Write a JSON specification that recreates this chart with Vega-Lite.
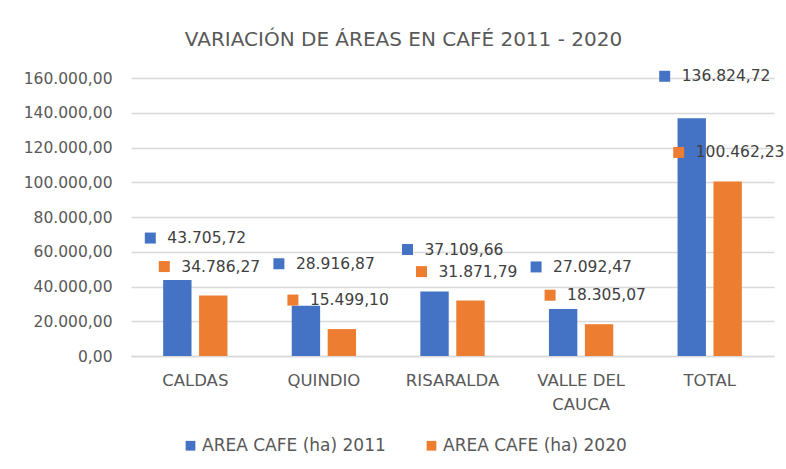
{
  "$schema": "https://vega.github.io/schema/vega-lite/v6.json",
  "width": 643,
  "height": 278,
  "autosize": {"type": "none"},
  "padding": {"left": 131, "top": 78, "right": 12, "bottom": 113},
  "background": "white",
  "title": {
    "text": "VARIACIÓN DE ÁREAS EN CAFÉ 2011 - 2020",
    "font": "DejaVu Sans",
    "fontSize": 20,
    "fontWeight": "normal",
    "color": "#595959",
    "anchor": "middle",
    "frame": "group",
    "dx": -49,
    "offset": 19
  },
  "config": {
    "locale": {
      "number": {"decimal": ",", "thousands": ".", "grouping": [3], "currency": ["$", ""]}
    },
    "view": {"stroke": null},
    "font": "DejaVu Sans"
  },
  "data": {
    "values": [
      {"region": "CALDAS", "serie": "AREA CAFE (ha) 2011", "area": 43705.72},
      {"region": "CALDAS", "serie": "AREA CAFE (ha) 2020", "area": 34786.27},
      {"region": "QUINDIO", "serie": "AREA CAFE (ha) 2011", "area": 28916.87},
      {"region": "QUINDIO", "serie": "AREA CAFE (ha) 2020", "area": 15499.10},
      {"region": "RISARALDA", "serie": "AREA CAFE (ha) 2011", "area": 37109.66},
      {"region": "RISARALDA", "serie": "AREA CAFE (ha) 2020", "area": 31871.79},
      {"region": "VALLE DEL CAUCA", "serie": "AREA CAFE (ha) 2011", "area": 27092.47},
      {"region": "VALLE DEL CAUCA", "serie": "AREA CAFE (ha) 2020", "area": 18305.07},
      {"region": "TOTAL", "serie": "AREA CAFE (ha) 2011", "area": 136824.72},
      {"region": "TOTAL", "serie": "AREA CAFE (ha) 2020", "area": 100462.23}
    ]
  },
  "encoding": {
    "x": {
      "field": "region",
      "type": "nominal",
      "sort": null,
      "scale": {"paddingInner": 0.5, "paddingOuter": 0.25},
      "axis": {
        "title": null,
        "labelAngle": 0,
        "labelFont": "DejaVu Sans",
        "labelFontSize": 16.5,
        "labelColor": "#595959",
        "labelPadding": 16,
        "labelLineHeight": 24,
        "labelExpr": "datum.label == 'VALLE DEL CAUCA' ? ['VALLE DEL', 'CAUCA'] : datum.label",
        "ticks": false,
        "tickSize": 0,
        "domain": true,
        "domainColor": "#d9d9d9",
        "domainWidth": 1.5,
        "grid": false
      }
    },
    "y": {
      "field": "area",
      "type": "quantitative",
      "scale": {"domain": [0, 160000], "nice": false, "zero": true},
      "axis": {
        "title": null,
        "values": [0, 20000, 40000, 60000, 80000, 100000, 120000, 140000, 160000],
        "format": ",.2f",
        "labelFont": "DejaVu Sans",
        "labelFontSize": 15.5,
        "labelColor": "#595959",
        "labelPadding": 19,
        "ticks": false,
        "tickSize": 0,
        "domain": false,
        "grid": true,
        "gridColor": "#d9d9d9",
        "gridWidth": 1.5
      }
    }
  },
  "layer": [
    {
      "mark": {"type": "bar"},
      "encoding": {
        "xOffset": {
          "field": "serie",
          "type": "nominal",
          "scale": {"paddingInner": 0.21, "paddingOuter": 0}
        },
        "color": {
          "field": "serie",
          "type": "nominal",
          "scale": {"range": ["#4472C4", "#ED7D31"]},
          "legend": {
            "title": null,
            "orient": "none",
            "direction": "horizontal",
            "legendX": 51,
            "legendY": 359,
            "padding": 0,
            "symbolType": "square",
            "symbolSize": 95,
            "symbolStrokeWidth": 0,
            "labelFont": "DejaVu Sans",
            "labelFontSize": 17,
            "labelColor": "#595959",
            "labelOffset": 3,
            "labelLimit": 400,
            "columnPadding": 37
          }
        }
      }
    },
    {
      "transform": [{"filter": "datum.serie == 'AREA CAFE (ha) 2011'"}],
      "mark": {"type": "point", "shape": "square", "filled": true, "size": 121, "color": "#4472C4", "opacity": 1, "xOffset": -45, "yOffset": -42},
      "encoding": {}
    },
    {
      "transform": [{"filter": "datum.serie == 'AREA CAFE (ha) 2011'"}],
      "mark": {"type": "text", "align": "left", "baseline": "middle", "dx": -28, "dy": -42, "font": "DejaVu Sans", "fontSize": 15.5, "color": "#404040"},
      "encoding": {"text": {"field": "area", "type": "quantitative", "format": ",.2f"}}
    },
    {
      "transform": [{"filter": "datum.serie == 'AREA CAFE (ha) 2020'"}],
      "mark": {"type": "point", "shape": "square", "filled": true, "size": 121, "color": "#ED7D31", "opacity": 1, "xOffset": -31, "yOffset": -29},
      "encoding": {}
    },
    {
      "transform": [{"filter": "datum.serie == 'AREA CAFE (ha) 2020'"}],
      "mark": {"type": "text", "align": "left", "baseline": "middle", "dx": -14, "dy": -29, "font": "DejaVu Sans", "fontSize": 15.5, "color": "#404040"},
      "encoding": {"text": {"field": "area", "type": "quantitative", "format": ",.2f"}}
    }
  ]
}
